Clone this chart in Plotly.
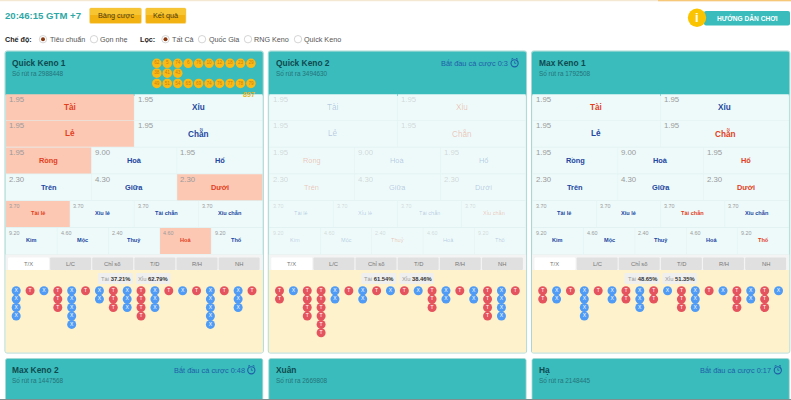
import plotly.graph_objects as go

# ---------- data ----------
CLOCK = "20:46:15 GTM +7"
BUTTONS = ["Bảng cược", "Kết quả"]
GUIDE = "HƯỚNG DẪN CHƠI"
MODE_LABELS = ["Tiêu chuẩn", "Gọn nhẹ"]
FILTER_LABELS = ["Tất Cả", "Quốc Gia", "RNG Keno", "Quick Keno"]
TABS = ["T/X", "L/C", "Chỉ số", "T/D", "R/H", "NH"]

ROW_LABELS = [
    ["Tài", "Xỉu"],
    ["Lẻ", "Chẵn"],
    ["Rồng", "Hoà", "Hổ"],
    ["Trên", "Giữa", "Dưới"],
    ["Tài lẻ", "Xỉu lẻ", "Tài chẵn", "Xỉu chẵn"],
    ["Kim", "Mộc", "Thuỷ", "Hoả", "Thổ"],
]
ROW_ODDS = [
    ["1.95", "1.95"],
    ["1.95", "1.95"],
    ["1.95", "9.00", "1.95"],
    ["2.30", "4.30", "2.30"],
    ["3.70", "3.70", "3.70", "3.70"],
    ["9.20", "4.60", "2.40", "4.60", "9.20"],
]

names = ["Quick Keno 1", "Quick Keno 2", "Max Keno 1"]
draws = ["Số rút ra 2988448", "Số rút ra 3494630", "Số rút ra 1792508"]
timers = [None, "Bắt đầu cá cược 0:3", None]
tai_pct = ["37.21%", "61.54%", "48.65%"]
xiu_pct = ["62.79%", "38.46%", "51.35%"]
winners = [{"Tài", "Lẻ", "Rồng", "Dưới", "Tài lẻ", "Hoả"}, set(), set()]
red_labels = [
    {"Tài", "Lẻ", "Rồng", "Dưới", "Tài lẻ", "Hoả"},
    {"Xỉu", "Chẵn", "Rồng", "Trên", "Xỉu chẵn", "Thuỷ"},
    {"Tài", "Chẵn", "Hổ", "Dưới", "Tài chẵn", "Thổ"},
]
faded = [False, True, False]

runs_1 = ["X4", "T1", "X1", "T3", "X5", "T1", "X2", "T3", "X3", "T4", "X3", "T1", "X1", "T1", "X5", "T1", "X3", "T1"]
runs_2 = ["T2", "X1", "T4", "T6", "X2", "T1", "X2", "T1", "X1", "T1", "X1", "T3", "X2", "T1", "X2", "T4", "X4", "T1"]
runs_3 = ["T2", "X2", "T1", "X4", "T1", "X2", "T2", "X3", "T2", "X1", "T3", "X3", "T1", "X1", "T3", "X2", "T3", "X1"]
road_runs = [runs_1, runs_2, runs_3]

ball_row_1 = [62, 5, 74, 6, 76, 10, 12, 18, 23, 29]
ball_row_2 = [38, 41, 43]
ball_row_3 = [49, 51, 54, 65, 69, 74, 76, 77, 78, 79]
ball_sum = "897"

lower_names = ["Max Keno 2", "Xuân", "Hạ"]
lower_draws = ["Số rút ra 1447568", "Số rút ra 2669808", "Số rút ra 2148445"]
lower_timers = ["Bắt đầu cá cược 0:48", None, "Bắt đầu cá cược 0:17"]

# ---------- style / layout ----------
FONT = "Liberation Sans, Arial, sans-serif"
TEAL = "#3abcbc"
CELL = "#eefafa"
HILITE = "#fcc8b4"
CREAM = "#fdf2cb"
RED = "#e2401c"
BLUE = "#23479f"
GAP = "#e2f1f1"
PANEL_X = [5.5, 268.8, 532]
PANEL_W = 257.3

fig = go.Figure()
shapes, notes = [], []


def rect(x0, y0, x1, y1, fill, line=None, w=1):
    shapes.append(dict(type="rect", x0=x0, y0=y0, x1=x1, y1=y1, fillcolor=fill,
                       line=dict(color=line, width=w) if line else dict(width=0), layer="below"))


def rrect(x0, y0, x1, y1, fill, r=2, line=None, w=1):
    p = (f"M{x0+r},{y0} L{x1-r},{y0} Q{x1},{y0} {x1},{y0+r} L{x1},{y1-r} Q{x1},{y1} {x1-r},{y1} "
         f"L{x0+r},{y1} Q{x0},{y1} {x0},{y1-r} L{x0},{y0+r} Q{x0},{y0} {x0+r},{y0} Z")
    shapes.append(dict(type="path", path=p, fillcolor=fill,
                       line=dict(color=line, width=w) if line else dict(width=0), layer="below"))


def circle(cx, cy, r, fill, line=None, w=1):
    shapes.append(dict(type="circle", x0=cx - r, y0=cy - r, x1=cx + r, y1=cy + r, fillcolor=fill,
                       line=dict(color=line, width=w) if line else dict(width=0), layer="below"))


def text(x, y, s, size, color, bold=False, anchor="left"):
    shift = {"left": -2, "right": 2, "center": 0}[anchor]
    notes.append(dict(x=x, y=y, text=f"<b>{s}</b>" if bold else s, showarrow=False, xanchor=anchor,
                      yanchor="middle", xshift=shift, font=dict(family=FONT, size=size, color=color)))


def clock_icon(cx, cy, color):
    circle(cx, cy, 3.6, "rgba(0,0,0,0)", color, 1.1)
    shapes.append(dict(type="path", path=f"M{cx},{cy-2} L{cx},{cy} L{cx+1.6},{cy}",
                       line=dict(color=color, width=0.8), layer="below"))
    for d in (-3.2, 3.2):
        shapes.append(dict(type="line", x0=cx + d, y0=cy - 4.2, x1=cx + d * 0.45, y1=cy - 4.8,
                           line=dict(color=color, width=1), layer="below"))


# ---------- page header ----------
rect(0, 0, 791, 1.2, "#f5e8d2")
rect(658, 0, 791, 1.2, "#f7c878")
text(5, 15, CLOCK, 9.6, "#2ea8a6", True)
for (x0, x1), label in zip([(89.5, 141.5), (145.5, 186)], BUTTONS):
    rrect(x0, 8, x1, 23.5, "#f2b212", 1.5, "#f9e0a0", 0.6)
    rect(x0 + 0.5, 8.5, x1 - 0.5, 15, "#f7c532")
    text((x0 + x1) / 2, 15.5, label, 7.3, "#4a3a10", False, "center")

rrect(704, 11, 790, 25.5, TEAL, 2)
circle(697, 17.8, 9.2, "#fbc400")
text(697, 17.6, "i", 13, "white", True, "center")
text(747.5, 18, GUIDE, 6.6, "white", True, "center")

text(5, 39, "Chế độ:", 7.2, "#222222", True)
text(139.5, 39, "Lọc:", 7.2, "#222222", True)
mode_pos = [(43, 49.5), (94, 100.3)]
for i, ((cx, tx), label) in enumerate(zip(mode_pos, MODE_LABELS)):
    circle(cx, 39.2, 3.7, "white", "#b9b9b9", 0.6)
    if i == 0:
        circle(cx, 39.2, 2.0, "#8a3a12")
    text(tx, 39, label, 7.2, "#555555")
filter_pos = [(165.5, 172), (202, 208.5), (248, 254), (298, 304)]
for i, ((cx, tx), label) in enumerate(zip(filter_pos, FILTER_LABELS)):
    circle(cx, 39.2, 3.7, "white", "#b9b9b9", 0.6)
    if i == 0:
        circle(cx, 39.2, 2.0, "#8a3a12")
    text(tx, 39, label, 7.2, "#555555")

# ---------- main panels ----------
ROW_TOP = [94, 120.5, 147.2, 174, 200.8, 227.6]
ROW_H = 26.6
for p, px in enumerate(PANEL_X):
    rrect(px - 0.5, 51, px + PANEL_W + 0.5, 353, GAP, 2, "#a9d8d2", 1)
    rrect(px, 51.5, px + PANEL_W, 96, TEAL, 2)
    fade = faded[p]
    for r, (labels, odds) in enumerate(zip(ROW_LABELS, ROW_ODDS)):
        n = len(labels)
        w = (PANEL_W - 0.6) / n
        y0 = ROW_TOP[r]
        big = r < 4
        for c, (lab, od) in enumerate(zip(labels, odds)):
            x0 = px + 0.3 + c * w
            fill = HILITE if lab in winners[p] else CELL
            rect(x0 + 0.25, y0 + 0.3, x0 + w - 0.25, y0 + ROW_H - 0.3, fill)
            col = RED if lab in red_labels[p] else BLUE
            oc = "#9a9a9a"
            if fade:
                col = "rgba(226,80,40,0.32)" if lab in red_labels[p] else "rgba(35,71,159,0.28)"
                oc = "rgba(150,150,150,0.35)"
            text(x0 + 3.4, y0 + 5, od, 7.8 if big else 5.4, oc)
            text(x0 + w / 2, y0 + 13 if big else y0 + 12.3, lab,
                 (8.2 if r < 2 else 7.4) if big else 5.6, col, not fade, "center")
    # tabs
    rect(px, 254.4, px + PANEL_W, 270, "#f4f4f4")
    tw = (PANEL_W - 4.5) / 6
    for t, lab in enumerate(TABS):
        x0 = px + 2.5 + t * tw
        rrect(x0, 257.5, x0 + tw - 1.2, 270, "#ffffff" if t == 0 else "#e0e0e0", 1)
        text(x0 + (tw - 1.2) / 2, 263.5, lab, 5.8, "#777777", False, "center")
    rect(px, 270, px + PANEL_W, 352.5, CREAM)
    # percentage pills
    rrect(px + 92.5, 273, px + 127.5, 284, "#efefef", 1)
    rrect(px + 130.5, 273, px + 165, 284, "#efefef", 1)
    notes.append(dict(x=px + 110, y=278.5, text=f"<span style='color:#999999'>Tài</span> <b>{tai_pct[p]}</b>",
                      showarrow=False, xanchor="center", yanchor="middle",
                      font=dict(family=FONT, size=5.8, color="#333333")))
    notes.append(dict(x=px + 147.8, y=278.5, text=f"<span style='color:#999999'>Xỉu</span> <b>{xiu_pct[p]}</b>",
                      showarrow=False, xanchor="center", yanchor="middle",
                      font=dict(family=FONT, size=5.8, color="#333333")))
    # header text
    text(px + 6.7, 62.7, names[p], 8.4, "#0f4a50", True)
    text(px + 6.7, 73, draws[p], 6.4, "#25737a")
    if timers[p]:
        text(px + PANEL_W - 18, 63, timers[p], 7.4, "#1f5ea8", False, "right")
        clock_icon(px + PANEL_W - 11.5, 63.3, "#1f5ea8")

    # road beads, drawn from the run lists
    bx, by, bs, bc = [], [], [], []
    step_x = (PANEL_W - 21.5) / 17
    for col, run in enumerate(road_runs[p]):
        letter, count = run[0], int(run[1:])
        for k in range(count):
            bx.append(px + 10.7 + col * step_x)
            by.append(290.7 + k * 8.42)
            bs.append(letter)
            bc.append("#e5535f" if letter == "T" else "#4f9bf5")
    fig.add_trace(go.Scatter(x=bx, y=by, mode="markers+text", text=bs, textposition="middle center",
                             textfont=dict(family=FONT, size=5, color="white"),
                             marker=dict(size=9, color=bc, line=dict(width=0)),
                             hoverinfo="skip", showlegend=False, cliponaxis=False))

# ---------- drawn keno balls in first panel ----------
gx, gy, gt = [], [], []
for row_y, row in zip([63.3, 73.2, 83.4], [ball_row_1, ball_row_2, ball_row_3]):
    for i, v in enumerate(row):
        gx.append(156.8 + i * 10.46)
        gy.append(row_y)
        gt.append(str(v))
fig.add_trace(go.Scatter(x=gx, y=gy, mode="markers+text", text=gt, textposition="middle center",
                         textfont=dict(family=FONT, size=4.6, color="#c4821a"),
                         marker=dict(size=9.5, color="#fdb913", line=dict(width=0)),
                         hoverinfo="skip", showlegend=False))
text(248.5, 94, ball_sum, 7.2, "#e8b424", True, "center")

# ---------- lower panels ----------
for p, px in enumerate(PANEL_X):
    rrect(px, 358.5, px + PANEL_W, 402, TEAL, 2, "#a9d8d2", 0.8)
    text(px + 6.7, 370, lower_names[p], 8.4, "#0f4a50", True)
    text(px + 6.7, 379.7, lower_draws[p], 6.4, "#25737a")
    if lower_timers[p]:
        text(px + PANEL_W - 18, 370, lower_timers[p], 7.4, "#1f5ea8", False, "right")
        clock_icon(px + PANEL_W - 11.5, 370.3, "#1f5ea8")
rect(0, 399, 791, 400, "#7f8f8f")

fig.update_layout(
    width=791, height=400, margin=dict(l=0, r=0, t=0, b=0),
    paper_bgcolor="white", plot_bgcolor="white", showlegend=False,
    shapes=shapes, annotations=notes,
    xaxis=dict(range=[0, 791], visible=False, fixedrange=True),
    yaxis=dict(range=[400, 0], visible=False, fixedrange=True),
)
fig.write_html("out.html", config=dict(displayModeBar=False, staticPlot=True),
               post_script="document.body.style.margin='0';document.body.style.overflow='hidden';")
